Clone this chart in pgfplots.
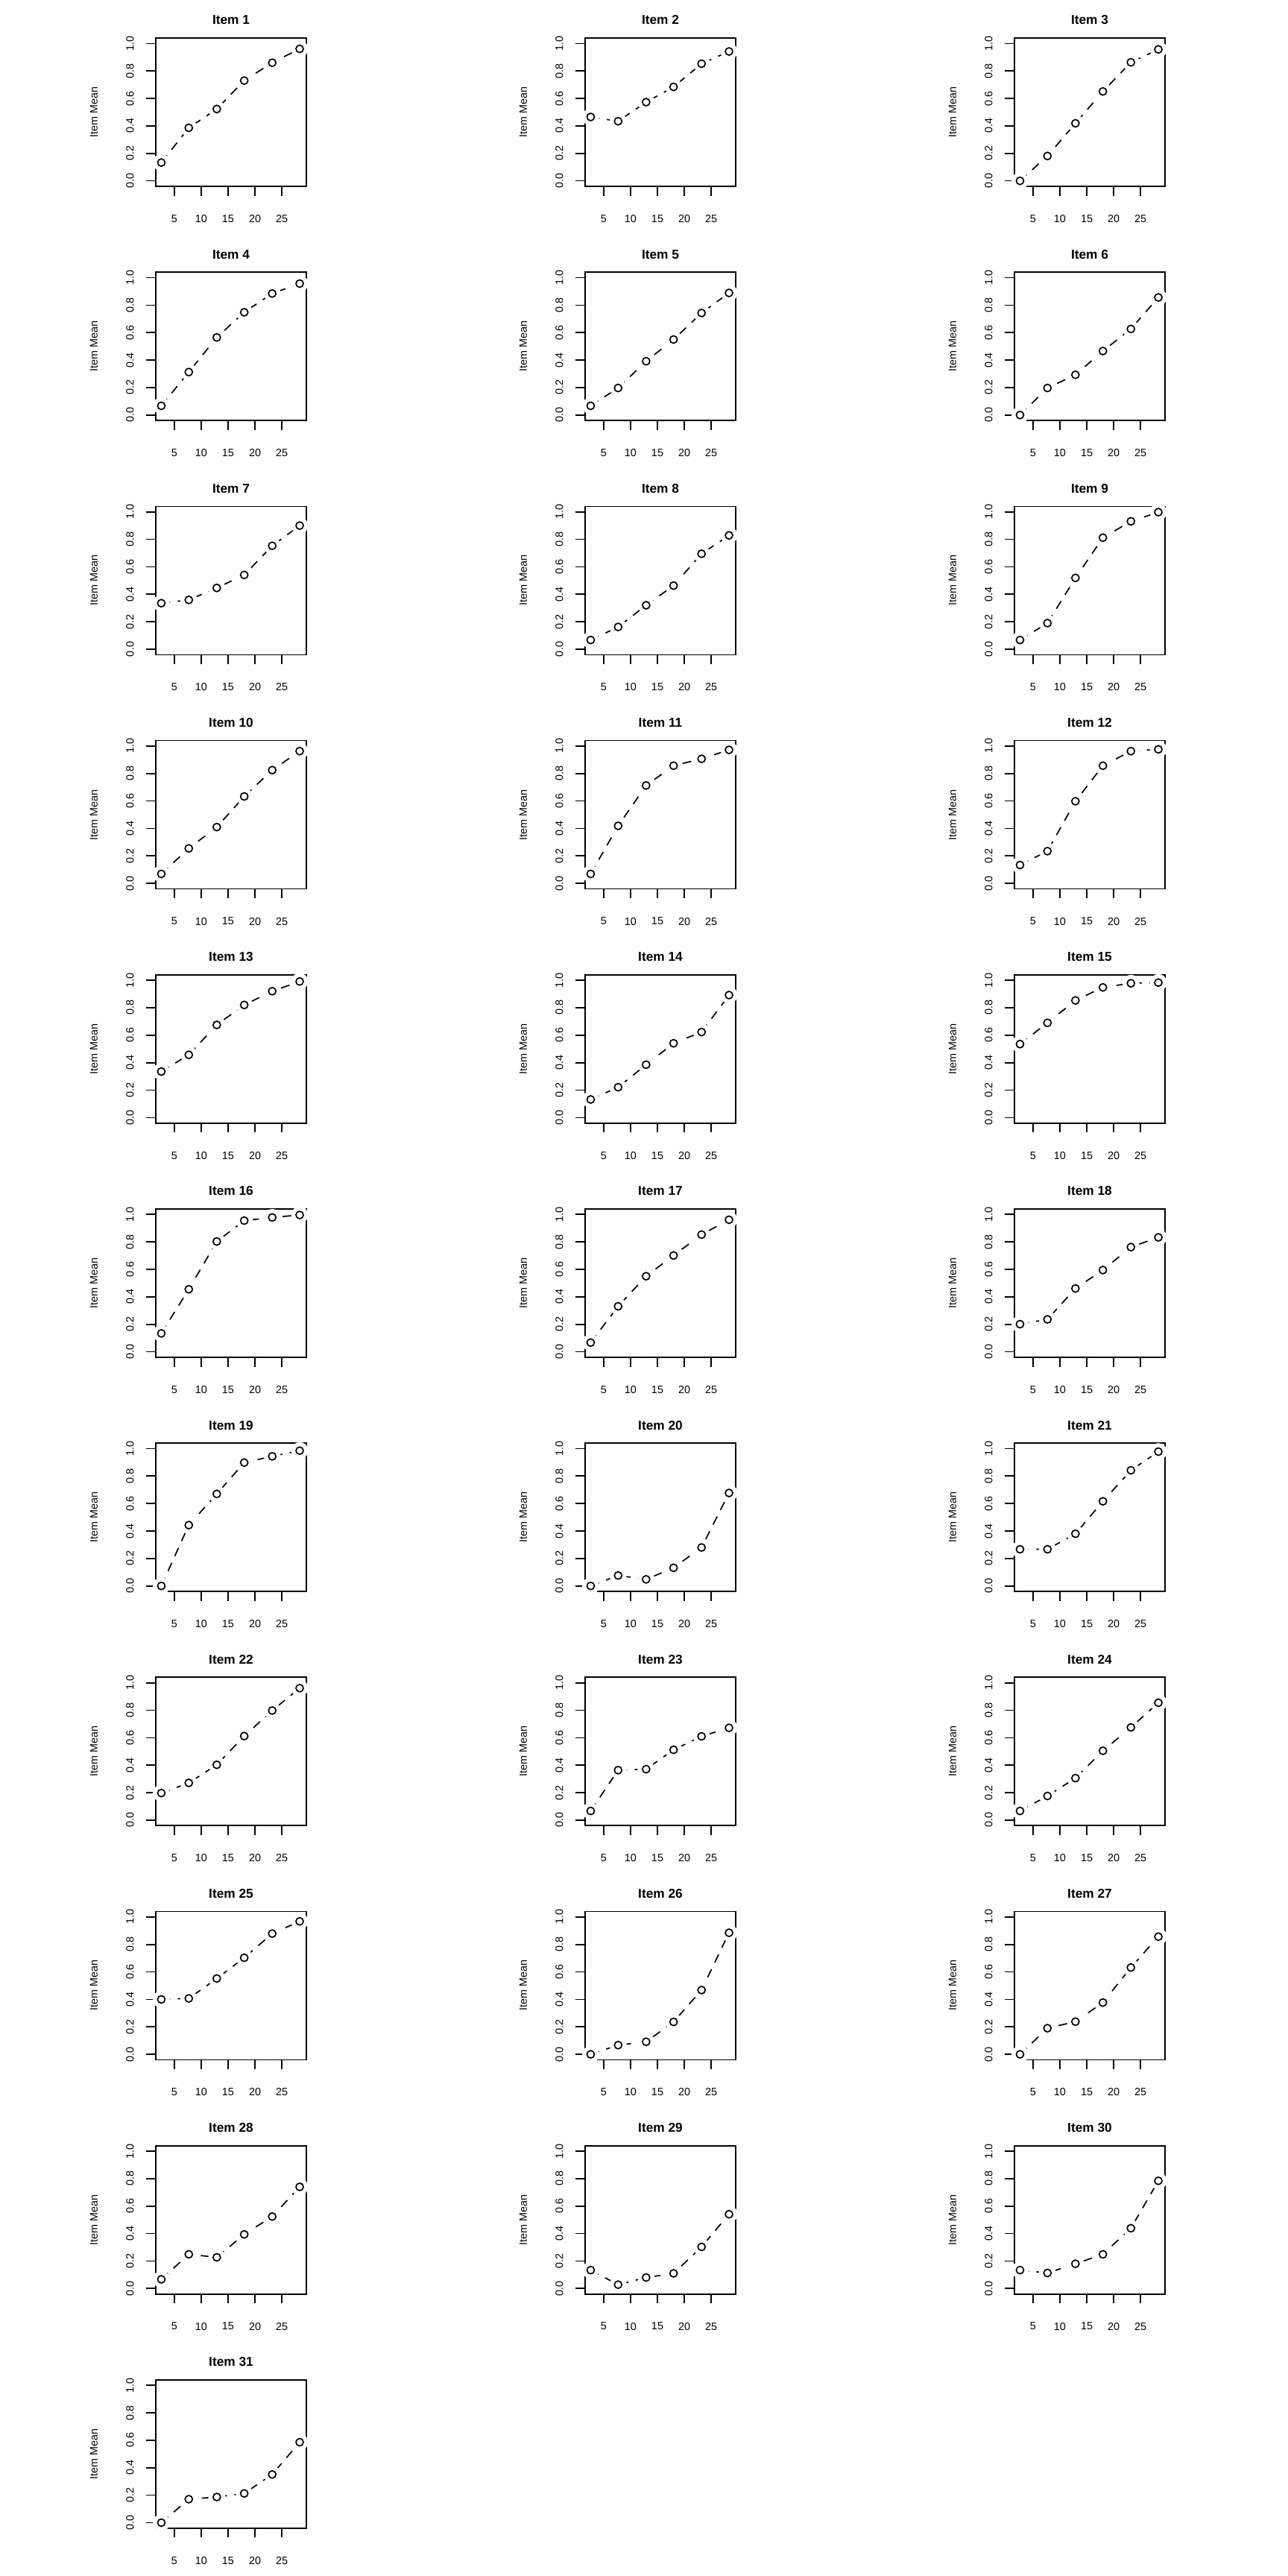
\documentclass[border=0pt]{standalone}
\usepackage{fontspec}
\setmainfont{Liberation Sans}
\usepackage{pgfplots}
\pgfplotsset{compat=1.18}
\pgfplotsset{
  panel/.style={
    scale only axis, width=101pt, height=99.5pt,
    xmin=1.57, xmax=29.54, ymin=-0.04, ymax=1.04,
    xtick={5,10,15,20,25}, ytick={0,0.2,0.4,0.6,0.8,1.0},
    /pgf/number format/assume math mode=true,
    yticklabel={\pgfmathprintnumber[fixed,fixed zerofill,precision=1]{\tick}},
    tick pos=left, tick align=outside, major tick length=6.3pt,
    every tick/.style={black, line width=0.85pt},
    axis line style={line width=0.85pt, black},
    axis on top, clip=true,
    tick label style={font=\fontsize{7.2}{8}\selectfont},
    xticklabel style={anchor=north, inner sep=0pt},
    xticklabel shift=12.7pt,
    yticklabel style={rotate=90, anchor=south, inner sep=0pt},
    yticklabel shift=8.2pt,
    ylabel={Item Mean},
    every axis y label/.style={at={(axis description cs:-0.411,0.5)}, rotate=90, anchor=center, font=\fontsize{7.2}{8}\selectfont},
    every axis title/.style={at={(axis description cs:0.5,1.1206)}, anchor=center, font=\bfseries\fontsize{8.64}{10}\selectfont},
  },
  dashline/.style={black, line width=0.85pt, dash pattern=on 6pt off 5pt, mark=none},
  halo/.style={only marks, mark=*, mark size=5.5pt, mark options={draw=white, fill=white, solid}},
  pts/.style={only marks, mark=o, mark size=2.5pt, mark options={black, line width=0.85pt, solid}},
}
\newcommand{\panel}[9]{%
  \begin{axis}[panel, at={({(209+#1*576)*0.5pt},{-(51+#2*314.18)*0.5pt})}, anchor=north west, title={Item #3}]
    \addplot[dashline] coordinates {(2.6,#4) (7.7,#5) (12.9,#6) (18.0,#7) (23.2,#8) (28.3,#9)};
    \addplot[halo] coordinates {(2.6,#4) (7.7,#5) (12.9,#6) (18.0,#7) (23.2,#8) (28.3,#9)};
    \addplot[pts] coordinates {(2.6,#4) (7.7,#5) (12.9,#6) (18.0,#7) (23.2,#8) (28.3,#9)};
  \end{axis}}
\begin{document}
\begin{tikzpicture}
\path[use as bounding box, fill=white] (0,0) rectangle (864pt,-1728pt);
\panel{0}{0}{1}{0.133}{0.386}{0.523}{0.730}{0.860}{0.961}
\panel{1}{0}{2}{0.465}{0.434}{0.573}{0.684}{0.853}{0.942}
\panel{2}{0}{3}{0.0}{0.181}{0.419}{0.651}{0.863}{0.957}
\panel{0}{1}{4}{0.067}{0.313}{0.565}{0.748}{0.885}{0.957}
\panel{1}{1}{5}{0.067}{0.197}{0.392}{0.550}{0.743}{0.889}
\panel{2}{1}{6}{0.0}{0.197}{0.293}{0.466}{0.627}{0.856}
\panel{0}{2}{7}{0.335}{0.359}{0.446}{0.541}{0.753}{0.900}
\panel{1}{2}{8}{0.067}{0.162}{0.320}{0.463}{0.695}{0.829}
\panel{2}{2}{9}{0.067}{0.190}{0.519}{0.812}{0.931}{0.998}
\panel{0}{3}{10}{0.069}{0.255}{0.410}{0.633}{0.825}{0.963}
\panel{1}{3}{11}{0.069}{0.419}{0.713}{0.857}{0.907}{0.972}
\panel{2}{3}{12}{0.134}{0.235}{0.598}{0.857}{0.963}{0.976}
\panel{0}{4}{13}{0.335}{0.457}{0.675}{0.820}{0.920}{0.991}
\panel{1}{4}{14}{0.132}{0.221}{0.385}{0.541}{0.623}{0.892}
\panel{2}{4}{15}{0.535}{0.690}{0.853}{0.948}{0.978}{0.983}
\panel{0}{5}{16}{0.134}{0.455}{0.803}{0.955}{0.978}{0.996}
\panel{1}{5}{17}{0.067}{0.331}{0.550}{0.701}{0.853}{0.961}
\panel{2}{5}{18}{0.201}{0.236}{0.461}{0.595}{0.762}{0.833}
\panel{0}{6}{19}{0.0}{0.443}{0.670}{0.898}{0.944}{0.985}
\panel{1}{6}{20}{0.0}{0.076}{0.048}{0.132}{0.280}{0.677}
\panel{2}{6}{21}{0.267}{0.267}{0.380}{0.616}{0.842}{0.978}
\panel{0}{7}{22}{0.197}{0.271}{0.403}{0.612}{0.798}{0.961}
\panel{1}{7}{23}{0.067}{0.364}{0.371}{0.512}{0.610}{0.672}
\panel{2}{7}{24}{0.067}{0.176}{0.306}{0.505}{0.675}{0.855}
\panel{0}{8}{25}{0.400}{0.407}{0.552}{0.703}{0.879}{0.968}
\panel{1}{8}{26}{0.0}{0.067}{0.091}{0.236}{0.468}{0.885}
\panel{2}{8}{27}{0.0}{0.190}{0.238}{0.377}{0.632}{0.857}
\panel{0}{9}{28}{0.067}{0.249}{0.227}{0.394}{0.524}{0.740}
\panel{1}{9}{29}{0.134}{0.028}{0.080}{0.110}{0.303}{0.541}
\panel{2}{9}{30}{0.134}{0.113}{0.180}{0.249}{0.439}{0.784}
\panel{0}{10}{31}{0.0}{0.171}{0.187}{0.213}{0.351}{0.586}
\end{tikzpicture}
\end{document}
